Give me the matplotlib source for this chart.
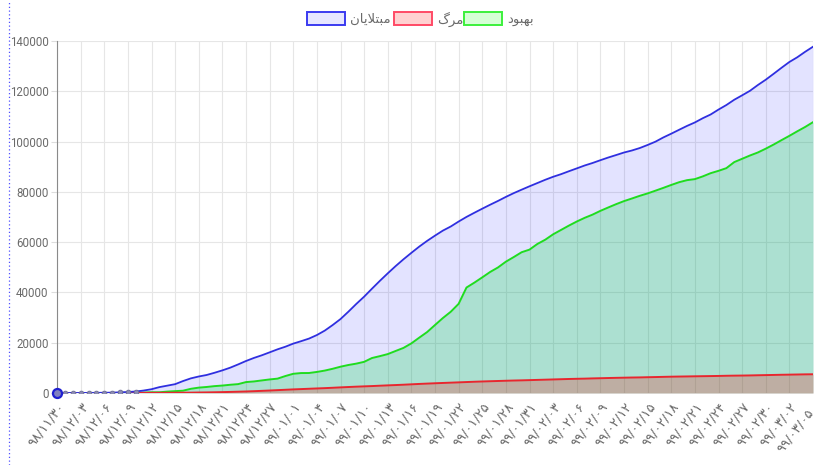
import matplotlib
matplotlib.use("Agg")
import matplotlib.pyplot as plt
from matplotlib.patches import Rectangle
from matplotlib.lines import Line2D
import numpy as np

# ---------------- data ----------------
date_labels_west = [
    "98/11/30", "98/12/03", "98/12/06", "98/12/09", "98/12/12", "98/12/15",
    "98/12/18", "98/12/21", "98/12/24", "98/12/27", "99/01/01", "99/01/04",
    "99/01/07", "99/01/10", "99/01/13", "99/01/16", "99/01/19", "99/01/22",
    "99/01/25", "99/01/28", "99/01/31", "99/02/03", "99/02/06", "99/02/09",
    "99/02/12", "99/02/15", "99/02/18", "99/02/21", "99/02/24", "99/02/27",
    "99/02/30", "99/03/02", "99/03/05",
]
series_names = ["مبتلایان", "مرگ", "بهبود"]

infected = [
    2, 5, 18, 28, 43, 61, 95, 139, 245, 388, 593,
    978, 1501, 2336, 2922, 3513, 4747, 5823, 6566, 7161, 8042, 9000, 10075,
    11364, 12729, 13938, 14991, 16169, 17361, 18407, 19644, 20610, 21638,
    23049, 24811, 27017, 29406, 32332, 35408, 38309, 41495, 44605,
    47593, 50468, 53183, 55743, 58226, 60500, 62589, 64586, 66220, 68192,
    70029, 71686, 73303, 74877, 76389, 77995, 79494, 80868, 82211, 83505,
    84802, 85996, 87026, 88194, 89328, 90481, 91472, 92584, 93657, 94640,
    95646, 96448, 97424, 98647, 99970, 101650, 103135, 104691, 106220,
    107603, 109286, 110767, 112725, 114533, 116635, 118392, 120198, 122492,
    124603, 126949, 129341, 131652, 133521, 135701, 137724,
]
deaths = [
    2, 2, 4, 5, 8, 12, 16, 19, 26, 34, 43,
    54, 66, 77, 92, 107, 124, 145, 194, 237, 291, 354, 429, 514, 611, 724,
    853, 988, 1135, 1284, 1433, 1556, 1685, 1812, 1934, 2077, 2234, 2378,
    2517, 2640, 2757, 2898,
    3036, 3160, 3294, 3452, 3603, 3739, 3872, 3993, 4110, 4232, 4357, 4474,
    4585, 4683, 4777, 4869, 4958, 5031, 5118, 5209, 5297, 5391, 5481, 5574,
    5650, 5710, 5806, 5877, 5957, 6028,
    6091, 6156, 6203, 6277, 6340, 6418, 6486, 6541, 6589, 6640, 6685, 6733,
    6783, 6854, 6902, 6937, 6988, 7057, 7119, 7183, 7249, 7300, 7359, 7417,
    7451,
]
recovered = [
    0, 0, 0, 0, 0, 0, 0, 0, 49, 73, 123,
    175, 291, 291, 552, 739, 913, 1669, 2134, 2394, 2731, 2959, 3276, 3529,
    4339, 4590, 4996, 5389, 5710, 6745, 7635, 7931, 7950, 8376, 8913, 9625,
    10457, 11133, 11679, 12391, 13911, 14656,
    15473, 16711, 17935, 19736, 22011, 24236, 27039, 29812, 32309, 35465,
    41947, 43894, 45983, 48129, 49933, 52229, 54064, 55987, 57023, 59273,
    60965, 63113, 64843, 66569, 68193, 69657, 70933, 72439, 73791, 75103,
    76318, 77350, 78422, 79379, 80475, 81587, 82744, 83837, 84649, 85064,
    86143, 87422, 88357, 89428, 91836, 93147, 94464, 95661, 97173, 98808,
    100564, 102276, 104072, 105801, 107713,
]
y_ticks = [0, 20000, 40000, 60000, 80000, 100000, 120000, 140000]
label_step = 3

# ---------------- helpers ----------------
PERSIAN_DIGITS = str.maketrans("0123456789", "۰۱۲۳۴۵۶۷۸۹")
date_labels = [s.translate(PERSIAN_DIGITS) for s in date_labels_west]

# minimal Arabic-script shaper (isolated, final, initial, medial)
FORMS = {
    "م": ("\uFEE1", "\uFEE2", "\uFEE3", "\uFEE4"),
    "ب": ("\uFE8F", "\uFE90", "\uFE91", "\uFE92"),
    "ت": ("\uFE95", "\uFE96", "\uFE97", "\uFE98"),
    "ل": ("\uFEDD", "\uFEDE", "\uFEDF", "\uFEE0"),
    "ا": ("\uFE8D", "\uFE8E", None, None),
    "ی": ("\uFEEF", "\uFEF0", "\uFEF3", "\uFEF4"),
    "ن": ("\uFEE5", "\uFEE6", "\uFEE7", "\uFEE8"),
    "ر": ("\uFEAD", "\uFEAE", None, None),
    "گ": ("\u06AF", "\uFB93", "\uFB94", "\uFB95"),
    "ه": ("\uFEE9", "\uFEEA", "\uFEEB", "\uFEEC"),
    "و": ("\uFEED", "\uFEEE", None, None),
    "د": ("\uFEA9", "\uFEAA", None, None),
}


def shape(word):
    out = []
    chars = list(word)
    i = 0
    n = len(chars)
    while i < n:
        c = chars[i]
        prev = chars[i - 1] if i > 0 else None
        jp = prev is not None and prev in FORMS and FORMS[prev][2] is not None
        if c == "ل" and i + 1 < n and chars[i + 1] == "ا":
            out.append("\uFEFC" if jp else "\uFEFB")
            i += 2
            continue
        nxt = chars[i + 1] if i + 1 < n else None
        jn = FORMS[c][2] is not None and nxt is not None and nxt in FORMS
        iso, fin, ini, med = FORMS[c]
        if jp and jn:
            out.append(med)
        elif jp:
            out.append(fin)
        elif jn:
            out.append(ini)
        else:
            out.append(iso)
        i += 1
    return "".join(reversed(out))


# ---------------- figure ----------------
W, H = 817, 465
fig = plt.figure(figsize=(W / 100, H / 100), dpi=100)
fig.patch.set_facecolor("white")

L, R, T, B = 57, 813, 41, 393
ax = fig.add_axes([L / W, 1 - B / H, (R - L) / W, (B - T) / H])

x = np.arange(len(infected))

blue_line = "#2f2fe0"
red_line = "#e8262e"
green_line = "#1fdc1f"

ax.fill_between(x, 0, infected, color=(0, 0, 1, 0.11), lw=0, zorder=2)
ax.fill_between(x, 0, recovered, color=(0, 0.85, 0.25, 0.24), lw=0, zorder=2)
ax.fill_between(x, 0, deaths, color=(1, 0, 0, 0.22), lw=0, zorder=2)

base_pts = list(range(0, 11))
ax.plot(x, recovered, color=green_line, lw=1.4, zorder=4)
ax.plot(x, deaths, color=red_line, lw=1.4, zorder=4)
ax.plot(x, infected, color=blue_line, lw=1.3, zorder=5,
        marker="o", ms=3.4, mec=(0.42, 0.42, 0.58), mfc=(0.55, 0.55, 0.7), mew=0.6,
        markevery=base_pts)
ax.plot(x[:1], infected[:1], ls="none", marker="o", ms=6.5, mec="#2020d0",
        mfc="#8080c0", mew=1.6, zorder=6, clip_on=False)

ax.set_xlim(0, len(infected) - 1)
ax.set_ylim(0, 140000)

tick_pos = x[::label_step]
lbl_style = dict(rotation=52, ha="right", va="top", rotation_mode="anchor",
                 color="#6a6a6a", fontsize=9.5, family=["DejaVu Sans"])
ax.set_xticks(tick_pos)
ax.set_xticklabels(date_labels[:-1] + [""], **lbl_style)
# the edge label is slid along its own slant so it stays inside the canvas
ax.annotate(date_labels[-1], xy=(tick_pos[-1], 0),
            xycoords=("data", "axes fraction"), xytext=(-4.9, -9.9),
            textcoords="offset points", annotation_clip=False, **lbl_style)

ax.set_yticks(y_ticks)
ax.set_yticklabels([str(v) for v in y_ticks], color="#6a6a6a", fontsize=8.3,
                   family=["Roboto", "DejaVu Sans"])
ax.tick_params(axis="x", length=0, pad=5)
ax.tick_params(axis="y", length=4, pad=2, color="#dddddd", width=0.8)

ax.grid(True, color="#e6e6e6", lw=0.8)
ax.set_axisbelow(True)
for s in ["top", "right", "bottom"]:
    ax.spines[s].set_visible(False)
ax.spines["left"].set_color("#8a8a8a")
ax.spines["left"].set_linewidth(0.8)

# left dotted border
fig.add_artist(Line2D([9 / W, 9 / W], [0, 1], transform=fig.transFigure,
                      color="#5050ff", lw=0.9, ls=(0, (1, 2))))

# legend
legend_items = [
    (series_names[0], (0.9, 0.9, 1.0), "#3a3af0", 307),
    (series_names[1], (1.0, 0.82, 0.82), "#ff4a66", 394),
    (series_names[2], (0.84, 1.0, 0.84), "#3cf03c", 464),
]
box_w, box_h, box_top = 38, 13, 12
for name, fc, ec, bx in legend_items:
    fig.add_artist(Rectangle((bx / W, 1 - (box_top + box_h) / H), box_w / W, box_h / H,
                             transform=fig.transFigure, facecolor=fc,
                             edgecolor=ec, lw=1.4))
    fig.text((bx + box_w + 5) / W, 1 - (box_top + box_h / 2 + 1) / H, shape(name),
             ha="left", va="center", color="#6a6a6a", fontsize=9.5,
             family=["DejaVu Sans"])

fig.savefig("out.png", dpi=100, facecolor="white")
